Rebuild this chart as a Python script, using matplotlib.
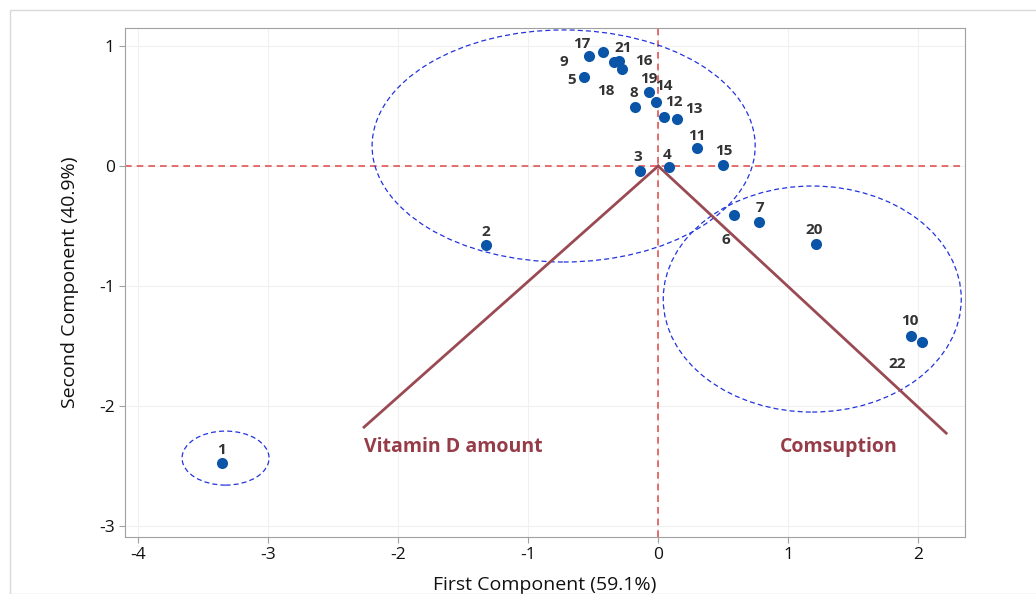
import matplotlib.pyplot as plt
from matplotlib.patches import Ellipse, Rectangle

# score plot data (first / second principal component)
labels = ["1", "2", "3", "4", "5", "6", "7", "8", "9", "10", "11",
          "12", "13", "14", "15", "16", "17", "18", "19", "20", "21", "22"]
pc1 = [-3.354, -1.323, -0.138, 0.085, -0.569, 0.587, 0.779, -0.177, -0.423, 1.944, 0.300,
       0.046, 0.146, -0.015, 0.500, -0.300, -0.531, -0.277, -0.069, 1.210, -0.338, 2.030]
pc2 = [-2.475, -0.658, -0.040, -0.010, 0.740, -0.410, -0.470, 0.490, 0.950, -1.414, 0.150,
       0.410, 0.390, 0.533, 0.010, 0.875, 0.917, 0.810, 0.617, -0.650, 0.867, -1.467]

# loading vectors
vec_names = ["Vitamin D amount", "Comsuption"]
vec_x = [-2.262, 2.215]
vec_y = [-2.175, -2.225]

# group ellipses: centre x, centre y, width, height
groups_cx = [-0.727, 1.185, -3.327]
groups_cy = [0.167, -1.108, -2.433]
groups_w = [2.946, 2.292, 0.669]
groups_h = [1.933, 1.883, 0.450]

# label offsets in pixels (dx right, dy up)
LABEL_OFF = {
    "1": (-1, 13), "2": (0, 13), "3": (-2, 14), "4": (-2, 12), "5": (-13, -3),
    "6": (-9, -25), "7": (0, 14), "8": (-1, 14), "9": (-39, -10), "10": (-1, 15),
    "11": (0, 12), "12": (10, 15), "13": (17, 10), "14": (8, 16), "15": (1, 14),
    "16": (25, 0), "17": (-7, 12), "18": (-16, -22), "19": (0, 13), "20": (-1, 14),
    "21": (9, 14), "22": (-25, -22),
}

POINT_COLOR = "#0B55A8"
VEC_COLOR = "#9A4A52"
TEXT_VEC = "#963C48"
REF_COLOR = "#E05555"
FONT = "Open Sans"

plt.rcParams["axes.unicode_minus"] = False

fig = plt.figure(figsize=(10.36, 5.94), dpi=100)
fig.patches.append(Rectangle((10 / 1036, 0), 1.0, 1 - 10 / 594, transform=fig.transFigure,
                             fill=False, edgecolor="#d9d9d9", linewidth=1.0))
ax = fig.add_axes([0.1207, 0.096, 0.8108, 0.8569])

ax.set_xlim(-4.1, 2.36)
ax.set_ylim(-3.09, 1.15)
ax.set_xticks([-4, -3, -2, -1, 0, 1, 2])
ax.set_yticks([-3, -2, -1, 0, 1])
ax.grid(True, color="#f0f0f0", linewidth=0.8)
ax.set_axisbelow(True)

ax.axhline(0, color=REF_COLOR, linestyle=(0, (4, 3)), linewidth=1.2, zorder=2)
ax.axvline(0, color=REF_COLOR, linestyle=(0, (4, 3)), linewidth=1.2, zorder=2)

for cx, cy, w, h in zip(groups_cx, groups_cy, groups_w, groups_h):
    ax.add_patch(Ellipse((cx, cy), w, h, fill=False, edgecolor="#2233DD",
                         linestyle=(0, (4, 2.5)), linewidth=0.9, zorder=2))

for vx, vy in zip(vec_x, vec_y):
    ax.plot([0, vx], [0, vy], color=VEC_COLOR, linewidth=2.0, zorder=3)

ax.text(vec_x[0], -2.342, vec_names[0], color=TEXT_VEC, fontsize=14,
        fontweight="bold", family=FONT, ha="left", va="center")
ax.text(1.385, -2.342, vec_names[1], color=TEXT_VEC, fontsize=14,
        fontweight="bold", family=FONT, ha="center", va="center")

ax.scatter(pc1, pc2, s=64, color=POINT_COLOR, zorder=4, linewidths=0)
for lab, x, y in zip(labels, pc1, pc2):
    dx, dy = LABEL_OFF[lab]
    ax.annotate(lab, (x, y), xytext=(dx * 0.72, dy * 0.72), textcoords="offset points",
                ha="center", va="center", fontsize=11, fontweight="bold",
                family=FONT, color="#333333", zorder=5)

for s in ax.spines.values():
    s.set_color("#a0a0a0")
ax.tick_params(colors="#a0a0a0", labelcolor="#111111", labelsize=12.5, length=4)
for t in ax.get_xticklabels() + ax.get_yticklabels():
    t.set_family(FONT)
ax.set_xlabel("First Component (59.1%)", fontsize=14, family=FONT, color="#111111", labelpad=9)
ax.set_ylabel("Second Component (40.9%)", fontsize=14, family=FONT, color="#111111", labelpad=14)

fig.savefig("out.png", dpi=100)
